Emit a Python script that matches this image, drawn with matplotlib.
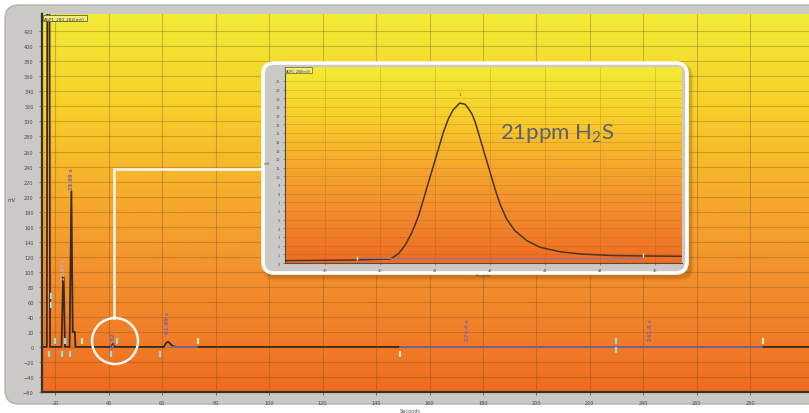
import numpy as np
import matplotlib
matplotlib.use("Agg")
import matplotlib.pyplot as plt
from matplotlib.colors import LinearSegmentedColormap
from matplotlib.patches import FancyBboxPatch, Circle

# main chromatogram (seconds, mV)
main_t = [15, 16.8, 17.4, 18.0, 22.3, 22.9, 23.1, 23.6, 25.3, 26.0, 26.5, 27.3, 27.5,
          40.8, 41.5, 42.2, 60.6, 61.4, 62.2, 63.0, 64.0, 65.2, 302]
main_mv = [0, 0, 1500, 0, 0, 93, 93, 0, 0, 207, 20, 20, 0,
           0, 4, 0, 0, 5, 7, 4, 1, 0, 0]

# integration baselines drawn over the trace
base_start = [63.0, 149.0]
base_end = [73.0, 284.5]

# peak labels (vertical text)
label_t = [23.0, 26.0, 41.7, 61.9, 174.4, 242.8]
label_mv = [105, 225, 9, 33, 23, 23]
label_text = ["22.97 s", "25.98 s", "41.52", "61.88 s", "174.4 s", "242.8 s"]
label_color = ["#caa6c8", "#7c62b0", "#7c62b0", "#7c62b0", "#7c62b0", "#7c62b0"]

# start / end event markers
cyan_t = [17.8, 18.5, 18.5, 20.0, 22.6, 23.7, 25.6, 40.9, 43.2, 59.3, 229.7, 229.7]
cyan_mv = [-10, 68, 56, 8, -10, 8, -10, -10, 8, -10, 8, -4]
pale_t = [30.1, 73.5, 149.0, 284.7]
pale_mv = [8, 8, -10, 8]

x_ticks = list(range(20, 281, 20))
y_ticks = list(range(-60, 421, 20))

# zoomed H2S peak
ins_t = [38.27, 39.58, 40.18, 40.33, 40.45, 40.58, 40.70, 40.79, 40.88, 40.97, 41.06,
         41.15, 41.24, 41.33, 41.45, 41.55, 41.61, 41.67, 41.73, 41.82, 41.91, 42.00,
         42.09, 42.18, 42.30, 42.45, 42.67, 42.91, 43.27, 43.64, 44.18, 44.78, 45.49]
ins_mv = [0.27, 0.35, 0.46, 1.04, 2.0, 3.54, 5.46, 7.38, 9.31, 11.22, 13.15,
          15.07, 16.61, 17.68, 18.45, 18.28, 17.76, 17.19, 16.23, 14.30, 12.38, 10.46,
          8.54, 6.80, 5.07, 3.73, 2.57, 1.81, 1.30, 1.04, 0.87, 0.81, 0.77]
ins_x_ticks = [39, 40, 41, 42, 43, 44, 45]
ins_y_ticks = list(range(0, 22))

grad = LinearSegmentedColormap.from_list(
    "chrom", [(0.0, "#ee6c22"), (0.25, "#f28a2c"), (0.5, "#f6a82c"),
              (0.75, "#f8cf2a"), (1.0, "#f1eb36")])
grad_img = np.linspace(0, 1, 256).reshape(-1, 1)

fig = plt.figure(figsize=(8.09, 4.14), dpi=100)
fig.patch.set_facecolor("white")

# background frame
bg = fig.add_axes([0, 0, 1, 1], zorder=0)
bg.set_xlim(0, 809)
bg.set_ylim(414, 0)
bg.axis("off")
bg.add_patch(FancyBboxPatch((5, 6), 840, 399, boxstyle="round,pad=0,rounding_size=14",
                            fc="#cbc9c5", ec="#b3b1ad", lw=1.0))

# main chart
ax = fig.add_axes([42 / 809, 21 / 414, 767 / 809, 378 / 414], zorder=1)
xmin, xmax, ymin, ymax = 15, 302, -60, 443
ax.imshow(grad_img, cmap=grad, aspect="auto", origin="lower",
          extent=(xmin, xmax, ymin, ymax), zorder=0)
ax.set_xlim(xmin, xmax)
ax.set_ylim(ymin, ymax)
ax.set_xticks(x_ticks)
ax.set_yticks(y_ticks)
ax.grid(True, color="#7a4a1a", alpha=0.32, lw=0.8)
ax.set_axisbelow(False)
ax.tick_params(labelsize=3.6, colors="#4a4a4a", length=2, width=0.5, pad=4)
for s in ["top", "right"]:
    ax.spines[s].set_visible(False)
for s in ["left", "bottom"]:
    ax.spines[s].set_color("#3a3028")
    ax.spines[s].set_linewidth(1.6)

ax.plot(main_t, main_mv, color="#3b2a1e", lw=1.3, zorder=3)
for a, b in zip(base_start, base_end):
    ax.plot([a, b], [0, 0], color="#8c6cb4", lw=1.1, zorder=4)
ax.scatter(cyan_t, cyan_mv, marker="|", s=22, linewidths=1.6, color="#93ddd8", zorder=5)
ax.scatter(pale_t, pale_mv, marker="|", s=22, linewidths=1.6, color="#f2e6bc", zorder=5)
for t, v, txt, c in zip(label_t, label_mv, label_text, label_color):
    ax.text(t, v, txt, rotation=90, fontsize=3.8, color=c, ha="center", va="center",
            fontweight="bold", zorder=6)

ax.text(0.003, 0.994, "AGP1_280_282(mV)", transform=ax.transAxes, fontsize=3,
        va="top", ha="left", color="#3a3a2a", zorder=7,
        bbox=dict(fc="#f3ec80", ec="#6a6040", lw=0.6, pad=0.8))
ax.set_xlabel("Seconds", fontsize=3.6, color="#4a4a4a")
ax.xaxis.set_label_coords((410 - 42) / 767, -16 / 378)
ax.set_ylabel("mV", fontsize=3.6, color="#4a4a4a", rotation=0)
ax.yaxis.set_label_coords((12 - 42) / 767, (393 - 203) / 378)

# overlay: inset frame, circle and connector
fg = fig.add_axes([0, 0, 1, 1], zorder=3)
fg.set_xlim(0, 809)
fg.set_ylim(414, 0)
fg.axis("off")
fg.patch.set_alpha(0)
for k, a in enumerate([0.06, 0.06, 0.07, 0.08]):
    g = 7 - k * 1.5
    fg.add_patch(FancyBboxPatch((263 + 3 - g / 2, 64 + 4 - g / 2), 424 + g, 210 + g,
                                boxstyle="round,pad=0,rounding_size=12",
                                fc="#5a2a00", ec="none", alpha=a))
fg.add_patch(FancyBboxPatch((263, 64), 424, 210, boxstyle="round,pad=0,rounding_size=11",
                            fc="#cbc9c5", ec="white", lw=2.6))
fg.add_patch(Circle((115, 342), 23, fill=False, ec="white", lw=1.8, alpha=0.95))
fg.plot([114, 114, 263], [319, 170, 170], color="white", lw=1.8, alpha=0.95,
        solid_joinstyle="miter")

# inset chart
ai = fig.add_axes([285 / 809, (414 - 264) / 414, 397 / 809, 196 / 414], zorder=4)
ixmin, ixmax, iymin, iymax = 38.27, 45.49, 0, 22.6
ai.imshow(grad_img, cmap=grad, aspect="auto", origin="lower",
          extent=(ixmin, ixmax, iymin, iymax), zorder=0)
ai.set_xlim(ixmin, ixmax)
ai.set_ylim(iymin, iymax)
ai.set_xticks(ins_x_ticks)
ai.set_yticks(ins_y_ticks)
ai.grid(True, color="#7a4a1a", alpha=0.22, lw=0.6)
ai.tick_params(labelsize=2.6, colors="#555555", length=1.5, width=0.4, pad=2)
for s in ["top", "right"]:
    ai.spines[s].set_visible(False)
for s in ["left", "bottom"]:
    ai.spines[s].set_color("#5a4a3a")
    ai.spines[s].set_linewidth(0.8)
ai.plot(ins_t, ins_mv, color="#4a3525", lw=1.1, zorder=3, solid_joinstyle="round")
ai.plot([39.58, 44.78], [0.57, 0.57], color="#8c70b4", lw=0.8, zorder=4)
ai.scatter([39.58, 44.78], [0.57, 0.95], marker="|", s=10, linewidths=1.0,
           color="#f2e6bc", zorder=5)
ai.text(41.45, 19.2, "1", fontsize=3, color="#6a5a50", ha="center", va="bottom", zorder=5)
ai.text(0.003, 0.994, "AGP1_280(mV)", transform=ai.transAxes, fontsize=2.4,
        va="top", ha="left", color="#3a3a2a", zorder=7,
        bbox=dict(fc="#f3ec80", ec="#6a6040", lw=0.5, pad=0.6))
ai.set_xlabel("Seconds", fontsize=2.6, color="#555555", labelpad=1)
ai.set_ylabel("mV", fontsize=2.6, color="#555555", rotation=0, labelpad=6)
ai.text(0.541, 0.668, "21ppm H$_\\mathregular{2}$S", transform=ai.transAxes,
        fontsize=16, color="#5b6170", family="Lato", ha="left", va="center", zorder=6)

fig.savefig("out.png", dpi=100)
